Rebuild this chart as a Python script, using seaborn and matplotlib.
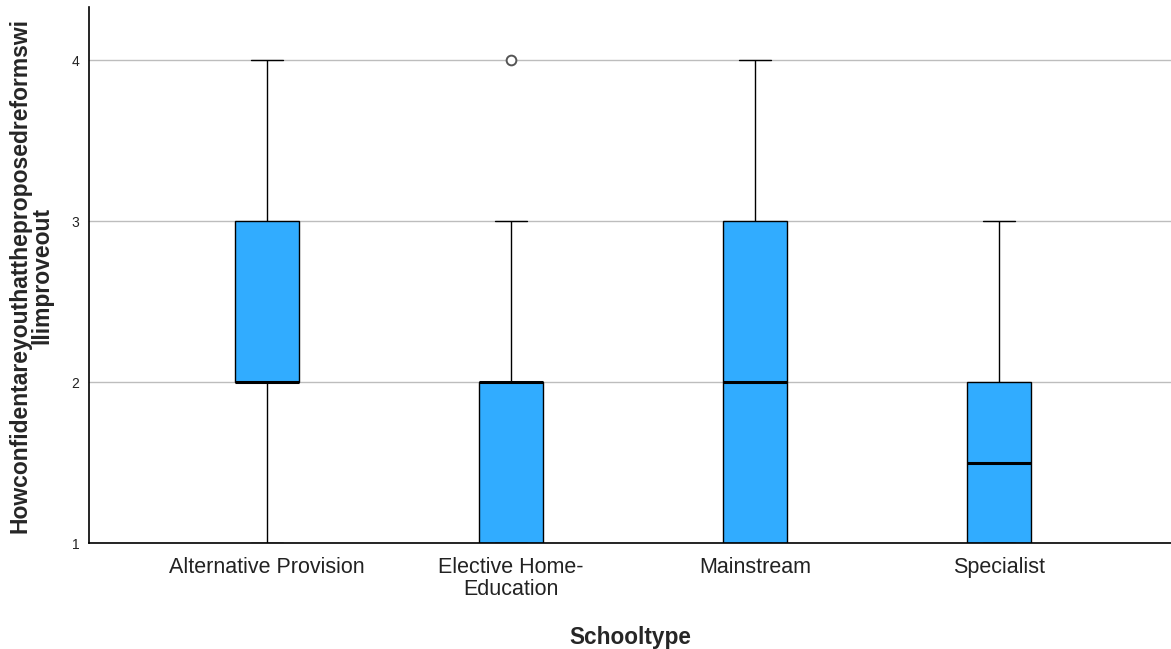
import numpy as np
import pandas as pd
import matplotlib
matplotlib.use("Agg")
import matplotlib.pyplot as plt
import seaborn as sns

# ----------------------------------------------------------
# DATA (responses per school type, 1-4 scale)
# ----------------------------------------------------------

school_types = [
    "Alternative Provision",
    "Elective Home-Education",
    "Mainstream",
    "Specialist"
]

tick_labels = [
    "Alternative Provision",
    "Elective Home-\nEducation",
    "Mainstream",
    "Specialist"
]

alt_provision = [1, 2, 2, 2, 3, 3, 4]
home_education = [1, 1, 1, 2, 2, 2, 2, 3, 4]
mainstream = [1, 1, 2, 3, 4]
specialist = [1, 1, 1, 2, 2, 3]

y_ticks = [1, 2, 3, 4]

y_label = "Howconfidentareyouthattheproposedreformswi\nllimproveout"
x_label = "Schooltype"

df = pd.DataFrame({
    "Schooltype": (
        [school_types[0]] * len(alt_provision)
        + [school_types[1]] * len(home_education)
        + [school_types[2]] * len(mainstream)
        + [school_types[3]] * len(specialist)
    ),
    "value": alt_provision + home_education + mainstream + specialist
})

# ----------------------------------------------------------
# PLOT
# ----------------------------------------------------------

sns.set_style("white")
plt.rcParams["font.family"] = ["Liberation Sans", "DejaVu Sans"]

fig = plt.figure(figsize=(11.71, 6.49), dpi=100)
ax = fig.add_axes([0.076, 0.1633, 0.924, 0.8257])

ax.yaxis.grid(True, color="#bdbdbd", linewidth=1.0, zorder=0)
ax.set_axisbelow(True)

sns.boxplot(
    data=df,
    x="Schooltype",
    y="value",
    order=school_types,
    color="#31acff",
    saturation=1,
    width=0.26,
    whis=1.5,
    linecolor="black",
    linewidth=1.0,
    medianprops={"linewidth": 2.2, "color": "black"},
    flierprops={"marker": "o", "markersize": 7,
                "markerfacecolor": "white",
                "markeredgecolor": "#555555",
                "markeredgewidth": 1.4},
    ax=ax
)

ax.set_xlim(-0.73, 3.705)
ax.set_ylim(1, 4.33)
ax.set_yticks(y_ticks)
ax.set_yticklabels([str(t) for t in y_ticks], fontsize=10, color="#222222")
ax.set_xticks(range(len(tick_labels)))
ax.set_xticklabels(tick_labels, fontsize=15.5, color="#222222",
                   linespacing=1.05)
ax.tick_params(axis="y", length=0, pad=7)
ax.tick_params(axis="x", length=0, pad=10)

ax.set_xlabel(x_label, fontsize=16.3, fontweight="bold", labelpad=19)
ax.set_ylabel(y_label, fontsize=16.5, fontweight="bold", labelpad=13,
              linespacing=0.92)

for side in ["top", "right"]:
    ax.spines[side].set_visible(False)
for side in ["left", "bottom"]:
    ax.spines[side].set_color("black")
    ax.spines[side].set_linewidth(1.2)

fig.savefig("out.png", dpi=100)
